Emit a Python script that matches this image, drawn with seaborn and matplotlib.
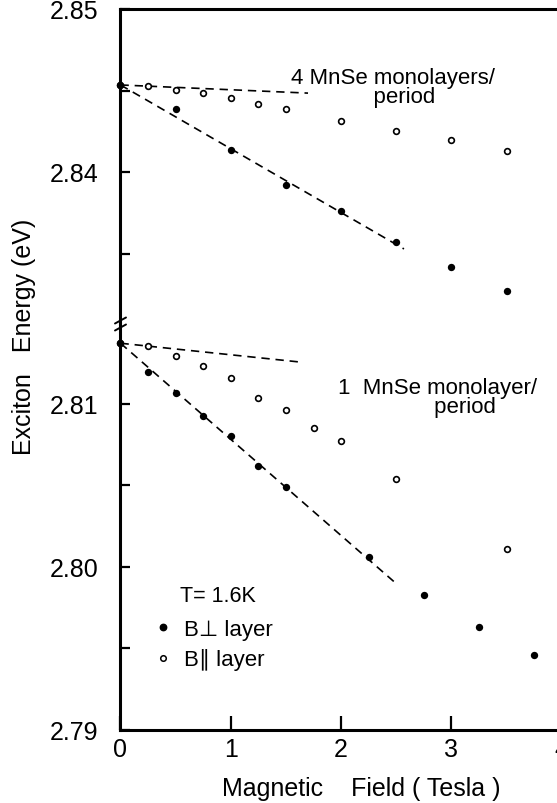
import numpy as np
import pandas as pd
import seaborn as sns
import matplotlib
matplotlib.use("Agg")
import matplotlib.pyplot as plt
from matplotlib.lines import Line2D

# ---------------- data ----------------
# 4 MnSe monolayers / period
B_4ML_PERP = [0, 0.5, 1.0, 1.5, 2.0, 2.5, 3.0, 3.5]
E_4ML_PERP = [2.84534, 2.84387, 2.84135, 2.83922, 2.83759, 2.83572, 2.83415, 2.83272]
B_4ML_PAR = [0, 0.25, 0.5, 0.75, 1.0, 1.25, 1.5, 2.0, 2.5, 3.0, 3.5]
E_4ML_PAR = [2.84534, 2.84529, 2.84505, 2.84483, 2.84454, 2.84417, 2.84387,
             2.84315, 2.84253, 2.84196, 2.84131]
FIT_4ML_PERP_B = [0, 2.57]
FIT_4ML_PERP_E = [2.84534, 2.83528]
FIT_4ML_PAR_B = [0, 1.70]
FIT_4ML_PAR_E = [2.84534, 2.84484]

# 1 MnSe monolayer / period
B_1ML_PERP = [0, 0.25, 0.5, 0.75, 1.0, 1.25, 1.5, 2.25, 2.75, 3.25, 3.75]
E_1ML_PERP = [2.81371, 2.81196, 2.81064, 2.80926, 2.80804, 2.80620, 2.80486,
              2.80058, 2.79828, 2.79628, 2.79458]
B_1ML_PAR = [0, 0.25, 0.5, 0.75, 1.0, 1.25, 1.5, 1.75, 2.0, 2.5, 3.5]
E_1ML_PAR = [2.81371, 2.81356, 2.81291, 2.81229, 2.81158, 2.81035, 2.80964,
             2.80849, 2.80771, 2.80536, 2.80107]
FIT_1ML_PERP_B = [0, 2.48]
FIT_1ML_PERP_E = [2.81371, 2.79908]
FIT_1ML_PAR_B = [0, 1.65]
FIT_1ML_PAR_E = [2.81371, 2.81254]

YTICKS_TOP = [2.84, 2.85]
YMINOR_TOP = [2.835, 2.845]
YTICKS_BOT = [2.79, 2.80, 2.81]
YMINOR_BOT = [2.795, 2.805]
XTICKS = [0, 1, 2, 3, 4]

# ---------------- style ----------------
sns.set_theme(style="white")
plt.rcParams["font.family"] = ["Liberation Sans", "DejaVu Sans"]
plt.rcParams["text.color"] = "black"

W_PX, H_PX = 557, 804
fig = plt.figure(figsize=(W_PX / 100, H_PX / 100), dpi=100)

left = 120.5 / W_PX
width = 4.1 * 110.3 / W_PX
ax_top = fig.add_axes([left, 1 - 325 / H_PX, width, (325 - 10) / H_PX])
ax_bot = fig.add_axes([left, 1 - 730.7 / H_PX, width, (730.7 - 325) / H_PX])

px_per_ev = 16300.0
ax_top.set_ylim(2.85 - 315 / px_per_ev, 2.85)
ax_bot.set_ylim(2.79, 2.79 + 405.7 / px_per_ev)
for ax in (ax_top, ax_bot):
    ax.set_xlim(0, 4.1)
    ax.set_facecolor("white")


def draw(ax, bp, ep, bo, eo, fpb, fpe, fob, foe):
    sns.lineplot(x=fpb, y=fpe, ax=ax, color="black", linewidth=1.2,
                 linestyle=(0, (5, 3.5)), estimator=None, sort=False, zorder=2)
    sns.lineplot(x=fob, y=foe, ax=ax, color="black", linewidth=1.2,
                 linestyle=(0, (5, 3.5)), estimator=None, sort=False, zorder=2)
    sns.scatterplot(x=bo, y=eo, ax=ax, s=17, color="white", edgecolor="black",
                    linewidth=1.2, clip_on=False, zorder=3)
    sns.scatterplot(x=bp, y=ep, ax=ax, s=28, color="black", edgecolor="black",
                    linewidth=0, clip_on=False, zorder=4)


draw(ax_top, B_4ML_PERP, E_4ML_PERP, B_4ML_PAR, E_4ML_PAR,
     FIT_4ML_PERP_B, FIT_4ML_PERP_E, FIT_4ML_PAR_B, FIT_4ML_PAR_E)
draw(ax_bot, B_1ML_PERP, E_1ML_PERP, B_1ML_PAR, E_1ML_PAR,
     FIT_1ML_PERP_B, FIT_1ML_PERP_E, FIT_1ML_PAR_B, FIT_1ML_PAR_E)

# spines
for ax, vis in ((ax_top, ("top", "left")), (ax_bot, ("bottom", "left"))):
    for name, sp in ax.spines.items():
        sp.set_visible(name in vis)
        sp.set_color("black")
        sp.set_linewidth(2.2)

# ticks
ax_top.set_yticks(YTICKS_TOP)
ax_top.set_yticks(YMINOR_TOP, minor=True)
ax_top.set_yticklabels([f"{v:.2f}" for v in YTICKS_TOP])
ax_top.set_xticks([])
ax_bot.set_yticks(YTICKS_BOT)
ax_bot.set_yticks(YMINOR_BOT, minor=True)
ax_bot.set_yticklabels([f"{v:.2f}" for v in YTICKS_BOT])
ax_bot.set_xticks(XTICKS)
ax_bot.set_xticklabels([str(v) for v in XTICKS])

for ax in (ax_top, ax_bot):
    ax.tick_params(axis="y", which="both", direction="in", length=7, width=1.6,
                   color="black", labelsize=18, pad=16, left=True, right=False,
                   labelcolor="black")
    ax.tick_params(axis="x", which="both", direction="in", length=10, width=1.6,
                   color="black", labelsize=18, pad=5, bottom=True, top=False,
                   labelcolor="black")
    ax.set_xlabel("")
    ax.set_ylabel("")
ax_top.tick_params(axis="x", bottom=False, labelbottom=False)

# axis break marks on the left spine
def fx(px):
    return px / W_PX


def fy(py):
    return 1 - py / H_PX


for yc in (321.5, 328.5):
    fig.add_artist(Line2D([fx(115), fx(126)], [fy(yc + 3), fy(yc - 3)],
                          transform=fig.transFigure, color="black", lw=1.4))

# axis labels
fig.text(fx(24), fy(336.5), "Exciton   Energy (eV)", rotation=90,
         ha="center", va="center", fontsize=18, color="black")
fig.text(fx(361.5), fy(789), "Magnetic    Field ( Tesla )",
         ha="center", va="center", fontsize=18, color="black")

# annotations (two-line labels)
fig.text(fx(392.5), fy(88), "4 MnSe monolayers/\n    period", ha="center",
         va="center", multialignment="center", linespacing=0.88,
         fontsize=16, color="black")
fig.text(fx(437.5), fy(398), "1  MnSe monolayer/\n         period", ha="center",
         va="center", multialignment="center", linespacing=0.88,
         fontsize=16, color="black")

# legend
fig.text(fx(180), fy(596.7), "T= 1.6K", ha="left", va="center",
         fontsize=15.5, color="black")
handles = [
    Line2D([], [], ls="", marker="o", markersize=4.6, markerfacecolor="black",
           markeredgecolor="black"),
    Line2D([], [], ls="", marker="o", markersize=4.0, markerfacecolor="white",
           markeredgecolor="black", markeredgewidth=1.1),
]
leg = ax_bot.legend(handles, ["B\u22a5 layer", "B\u2225 layer"],
                    loc="upper left", bbox_to_anchor=(fx(152), fy(620)),
                    bbox_transform=fig.transFigure, frameon=False,
                    fontsize=16, handlelength=1.0, handletextpad=0.45,
                    labelspacing=0.38, borderpad=0, borderaxespad=0)
for t in leg.get_texts():
    t.set_color("black")

fig.savefig("out.png", dpi=100)
